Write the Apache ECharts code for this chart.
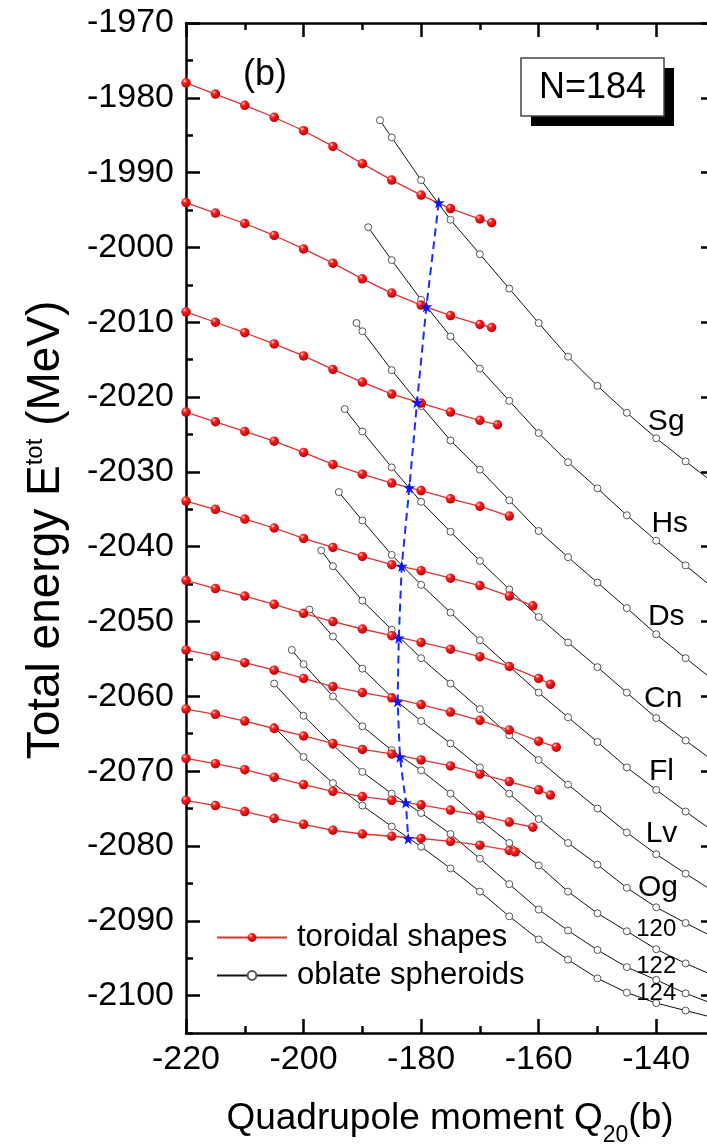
<!DOCTYPE html>
<html><head><meta charset="utf-8">
<script src="https://cdn.jsdelivr.net/npm/echarts@6/dist/echarts.min.js"></script>
<style>html,body{margin:0;padding:0;overflow:hidden;background:#fff;width:707px;height:1147px}#c{width:716px;height:1147px}</style>
</head><body><div id="c"></div><script>
// ---------- data ----------
const elements = ['Sg','Hs','Ds','Cn','Fl','Lv','Og','120','122','124'];
const xTicks = [-220,-200,-180,-160,-140];
const yMajor = [-2100,-2090,-2080,-2070,-2060,-2050,-2040,-2030,-2020,-2010,-2000,-1990,-1980,-1970];
const yMinor = [-2105,-2095,-2085,-2075,-2065,-2055,-2045,-2035,-2025,-2015,-2005,-1995,-1985,-1975];

// toroidal shapes (red)
const torSg = [[-220,-1978.0],[-215,-1979.5],[-210,-1981.0],[-205,-1982.6],[-200,-1984.4],[-195,-1986.5],[-190,-1988.8],[-185,-1991.0],[-180,-1993.0],[-175,-1994.8],[-170,-1996.2],[-168,-1996.7]];
const torHs = [[-220,-1994.0],[-215,-1995.4],[-210,-1996.8],[-205,-1998.4],[-200,-2000.2],[-195,-2002.1],[-190,-2004.2],[-185,-2006.1],[-180,-2007.7],[-175,-2009.1],[-170,-2010.3],[-168,-2010.7]];
const torDs = [[-220,-2008.6],[-215,-2010.0],[-210,-2011.4],[-205,-2012.9],[-200,-2014.5],[-195,-2016.3],[-190,-2018.0],[-185,-2019.6],[-180,-2020.8],[-175,-2022.0],[-170,-2023.1],[-167,-2023.7]];
const torCn = [[-220,-2022.0],[-215,-2023.3],[-210,-2024.6],[-205,-2025.9],[-200,-2027.4],[-195,-2029.0],[-190,-2030.3],[-185,-2031.5],[-180,-2032.5],[-175,-2033.6],[-170,-2034.6],[-165,-2035.9]];
const torFl = [[-220,-2033.9],[-215,-2035.0],[-210,-2036.3],[-205,-2037.5],[-200,-2038.9],[-195,-2040.1],[-190,-2041.3],[-185,-2042.4],[-180,-2043.2],[-175,-2044.2],[-170,-2045.2],[-165,-2046.6],[-161,-2047.9]];
const torLv = [[-220,-2044.5],[-215,-2045.6],[-210,-2046.6],[-205,-2047.7],[-200,-2048.9],[-195,-2050.0],[-190,-2051.0],[-185,-2051.9],[-180,-2052.8],[-175,-2053.7],[-170,-2054.7],[-165,-2056.0],[-160,-2057.6],[-158,-2058.4]];
const torOg = [[-220,-2053.8],[-215,-2054.6],[-210,-2055.5],[-205,-2056.5],[-200,-2057.6],[-195,-2058.7],[-190,-2059.5],[-185,-2060.2],[-180,-2061.1],[-175,-2062.1],[-170,-2063.2],[-165,-2064.5],[-160,-2066.0],[-157,-2066.8]];
const tor120 = [[-220,-2061.7],[-215,-2062.4],[-210,-2063.3],[-205,-2064.3],[-200,-2065.3],[-195,-2066.3],[-190,-2067.1],[-185,-2067.7],[-180,-2068.5],[-175,-2069.3],[-170,-2070.4],[-165,-2071.4],[-160,-2072.5],[-158,-2073.2]];
const tor122 = [[-220,-2068.3],[-215,-2069.0],[-210,-2069.8],[-205,-2070.8],[-200,-2071.8],[-195,-2072.7],[-190,-2073.4],[-185,-2073.9],[-180,-2074.5],[-175,-2075.2],[-170,-2075.9],[-165,-2076.8],[-161,-2077.5]];
const tor124 = [[-220,-2073.9],[-215,-2074.6],[-210,-2075.4],[-205,-2076.3],[-200,-2077.1],[-195,-2077.9],[-190,-2078.4],[-185,-2078.7],[-180,-2079.0],[-175,-2079.4],[-170,-2079.9],[-165,-2080.6],[-164,-2080.8]];

// oblate spheroids (black)
const oblSg = [[-187,-1983.0],[-185,-1985.3],[-180,-1991.0],[-175,-1996.3],[-170,-2000.9],[-165,-2005.5],[-160,-2010.1],[-155,-2014.6],[-150,-2018.5],[-145,-2022.1],[-140,-2025.5],[-135,-2028.6],[-130,-2031.6]];
const oblHs = [[-189,-1997.3],[-185,-2001.7],[-180,-2007.0],[-175,-2011.9],[-170,-2016.2],[-165,-2020.5],[-160,-2024.8],[-155,-2028.7],[-150,-2032.2],[-145,-2035.8],[-140,-2039.2],[-135,-2042.5],[-130,-2045.7]];
const oblDs = [[-191,-2010.1],[-190,-2011.2],[-185,-2016.4],[-180,-2021.2],[-175,-2025.8],[-170,-2029.7],[-165,-2033.8],[-160,-2037.9],[-155,-2041.4],[-150,-2044.8],[-145,-2048.2],[-140,-2051.7],[-135,-2054.9],[-130,-2058.0]];
const oblCn = [[-193,-2021.6],[-190,-2024.6],[-185,-2029.4],[-180,-2034.0],[-175,-2038.0],[-170,-2041.9],[-165,-2045.7],[-160,-2049.4],[-155,-2052.8],[-150,-2056.1],[-145,-2059.5],[-140,-2062.9],[-135,-2065.9],[-130,-2068.8]];
const oblFl = [[-194,-2032.7],[-190,-2036.5],[-185,-2041.1],[-180,-2045.1],[-175,-2048.8],[-170,-2052.5],[-165,-2056.0],[-160,-2059.5],[-155,-2062.8],[-150,-2066.1],[-145,-2069.5],[-140,-2072.5],[-135,-2075.4],[-130,-2078.2]];
const oblLv = [[-197,-2040.5],[-195,-2042.6],[-190,-2047.2],[-185,-2051.1],[-180,-2054.9],[-175,-2058.3],[-170,-2061.7],[-165,-2065.2],[-160,-2068.5],[-155,-2071.8],[-150,-2075.0],[-145,-2078.2],[-140,-2081.1],[-135,-2083.7],[-130,-2086.2]];
const oblOg = [[-199,-2048.4],[-195,-2052.0],[-190,-2056.3],[-185,-2060.1],[-180,-2063.3],[-175,-2066.3],[-170,-2069.5],[-165,-2073.0],[-160,-2076.4],[-155,-2079.6],[-150,-2082.5],[-145,-2085.6],[-140,-2088.2],[-135,-2090.3],[-130,-2092.3]];
const obl120 = [[-202,-2053.8],[-200,-2055.7],[-195,-2060.0],[-190,-2064.0],[-185,-2067.2],[-180,-2069.9],[-175,-2073.0],[-170,-2076.5],[-165,-2079.6],[-160,-2082.6],[-155,-2086.1],[-150,-2089.0],[-145,-2091.4],[-140,-2093.8],[-135,-2095.7],[-130,-2097.4]];
const obl122 = [[-205,-2058.3],[-200,-2062.6],[-195,-2066.5],[-190,-2070.1],[-185,-2073.0],[-180,-2075.6],[-175,-2078.4],[-170,-2081.7],[-165,-2085.1],[-160,-2088.5],[-155,-2091.3],[-150,-2093.9],[-145,-2096.2],[-140,-2097.9],[-135,-2099.7],[-130,-2101.2]];
const obl124 = [[-205,-2064.1],[-200,-2068.1],[-195,-2071.6],[-190,-2074.6],[-185,-2077.4],[-180,-2080.1],[-175,-2083.0],[-170,-2086.1],[-165,-2089.4],[-160,-2092.5],[-155,-2095.2],[-150,-2097.7],[-145,-2099.6],[-140,-2101.0],[-135,-2102.0],[-130,-2103.0]];

// crossing points (blue stars)
const crossX = [-177.0,-179.1,-180.7,-182.0,-183.3,-183.8,-184.0,-183.6,-182.6,-182.2];
const crossY = [-1994.0,-2007.9,-2020.7,-2032.1,-2042.6,-2052.2,-2060.7,-2068.1,-2074.2,-2079.0];

// element label anchors (data coords)
const labelX = [-138.3,-137.7,-138.3,-138.8,-139.1,-139.1,-139.7,-140.0,-140.0,-140.0];
const labelY = [-2023.3,-2036.9,-2049.4,-2060.3,-2070.1,-2078.3,-2085.6,-2091.2,-2096.1,-2099.7];

// ---------- chart ----------
const F = '"Liberation Sans", Arial, sans-serif';
const toroidal = [torSg,torHs,torDs,torCn,torFl,torLv,torOg,tor120,tor122,tor124];
const oblate = [oblSg,oblHs,oblDs,oblCn,oblFl,oblLv,oblOg,obl120,obl122,obl124];
const chart = echarts.init(document.getElementById('c'), null, {renderer:'canvas'});
const redBall = new echarts.graphic.RadialGradient(0.35,0.3,0.75,[
  {offset:0,color:'#ffd8d8'},{offset:0.3,color:'#ff2020'},{offset:1,color:'#b00000'}]);
const star = 'path://M50,0 L61.8,35.1 L98.9,35.1 L68.8,57.3 L79.4,91.3 L50,70.6 L20.6,91.3 L31.2,57.3 L1.1,35.1 L38.2,35.1 Z';
const series = [];
oblate.forEach(d => series.push({
  type:'line', name:'oblate spheroids', data:d, symbol:'circle', symbolSize:7,
  itemStyle:{color:'#fff', borderColor:'#555', borderWidth:1},
  lineStyle:{color:'#111', width:1}, z:2, silent:true
}));
toroidal.forEach(d => series.push({
  type:'line', name:'toroidal shapes', data:d, symbol:'circle', symbolSize:9.5,
  itemStyle:{color:redBall, borderWidth:0},
  lineStyle:{color:'#e53030', width:1.3}, z:3, silent:true
}));
series.push({
  type:'line', name:'cross', data:crossX.map((x,i)=>[x,crossY[i]]),
  symbol:star, symbolSize:12, itemStyle:{color:'#0a14ff'},
  lineStyle:{color:'#1a2cff', width:2, type:[8,5]}, z:5, silent:true
});
series.push({
  type:'scatter', name:'labels', symbolSize:0, z:6, silent:true,
  itemStyle:{opacity:1},
  data: elements.map((n,i)=>({name:n, value:[labelX[i],labelY[i]],
    label:{fontSize: /^\d/.test(n) ? 24 : 30}})),
  label:{show:true, position:'inside', formatter:'{b}', color:'#000', opacity:1, fontFamily:F, textBorderWidth:0}
});

const axisLine = {show:true, onZero:false, lineStyle:{color:'#000', width:2.5}};
const tickStyle = {color:'#000', width:2.5};
function yAx(pos, major){
  return {
    type:'value', position:pos, min:-2105, max:-1970,
    axisLine: major ? axisLine : {show:false},
    axisTick:{show:true, inside:true, length: major?14:7, lineStyle:tickStyle, customValues: major?yMajor:yMinor},
    axisLabel: (major && pos==='left') ? {show:true, customValues:yMajor, fontSize:34, color:'#000', fontFamily:F, margin:12,
      formatter: v => String(v)} : {show:false},
    splitLine:{show:false}
  };
}
function xAx(pos){
  return {
    type:'value', position:pos, min:-220, max:-130, interval:20,
    axisLine, axisTick:{show:true, inside:true, length:14, lineStyle:tickStyle},
    minorTick:{show:true, splitNumber:2, length:7, lineStyle:tickStyle},
    axisLabel: pos==='bottom' ? {show:true, fontSize:34, color:'#000', fontFamily:F, margin:10, showMaxLabel:false,
      formatter: v => xTicks.includes(v) ? String(v) : ''} : {show:false},
    splitLine:{show:false}, minorSplitLine:{show:false}
  };
}

chart.setOption({
  animation:false,
  backgroundColor:'#fff',
  grid:{left:186, right:1, top:23, bottom:114},
  xAxis:[xAx('bottom'), xAx('top')],
  yAxis:[yAx('left',true), yAx('left',false), yAx('right',true), yAx('right',false)],
  legend:{
    data:['toroidal shapes','oblate spheroids'], orient:'vertical', left:211, top:917,
    itemWidth:70, itemHeight:11, itemGap:7, selectedMode:false,
    textStyle:{fontSize:31, color:'#000', fontFamily:F, padding:[0,0,0,5]}
  },
  series,
  graphic:[
    {type:'text', x:265, y:75, style:{text:'(b)', fontSize:36, fontFamily:F, fill:'#000', align:'center', verticalAlign:'middle'}},
    {type:'rect', shape:{x:531, y:68, width:143, height:58}, style:{fill:'#000'}},
    {type:'rect', shape:{x:521, y:58, width:143, height:58}, style:{fill:'#fff', stroke:'#444', lineWidth:1.5}},
    {type:'text', x:592.5, y:88, style:{text:'N=184', fontSize:36, fontFamily:F, fill:'#000', align:'center', verticalAlign:'middle'}},
    {type:'text', x:46, y:530, rotation:Math.PI/2, style:{
      text:'{a|Total energy E}{s|tot}{a| (MeV)}', align:'center', verticalAlign:'middle', fill:'#000',
      rich:{a:{fontSize:46, fontFamily:F, fill:'#000'}, s:{fontSize:24, fontFamily:F, fill:'#000', verticalAlign:'top'}}}},
    {type:'text', x:450, y:1124, style:{
      text:'{a|Quadrupole moment Q}{s|20}{a|(b)}', align:'center', verticalAlign:'middle', fill:'#000',
      rich:{a:{fontSize:37, fontFamily:F, fill:'#000', padding:[0,0,10,0]}, s:{fontSize:23, fontFamily:F, fill:'#000', verticalAlign:'bottom'}}}}
  ]
});
</script></body></html>
